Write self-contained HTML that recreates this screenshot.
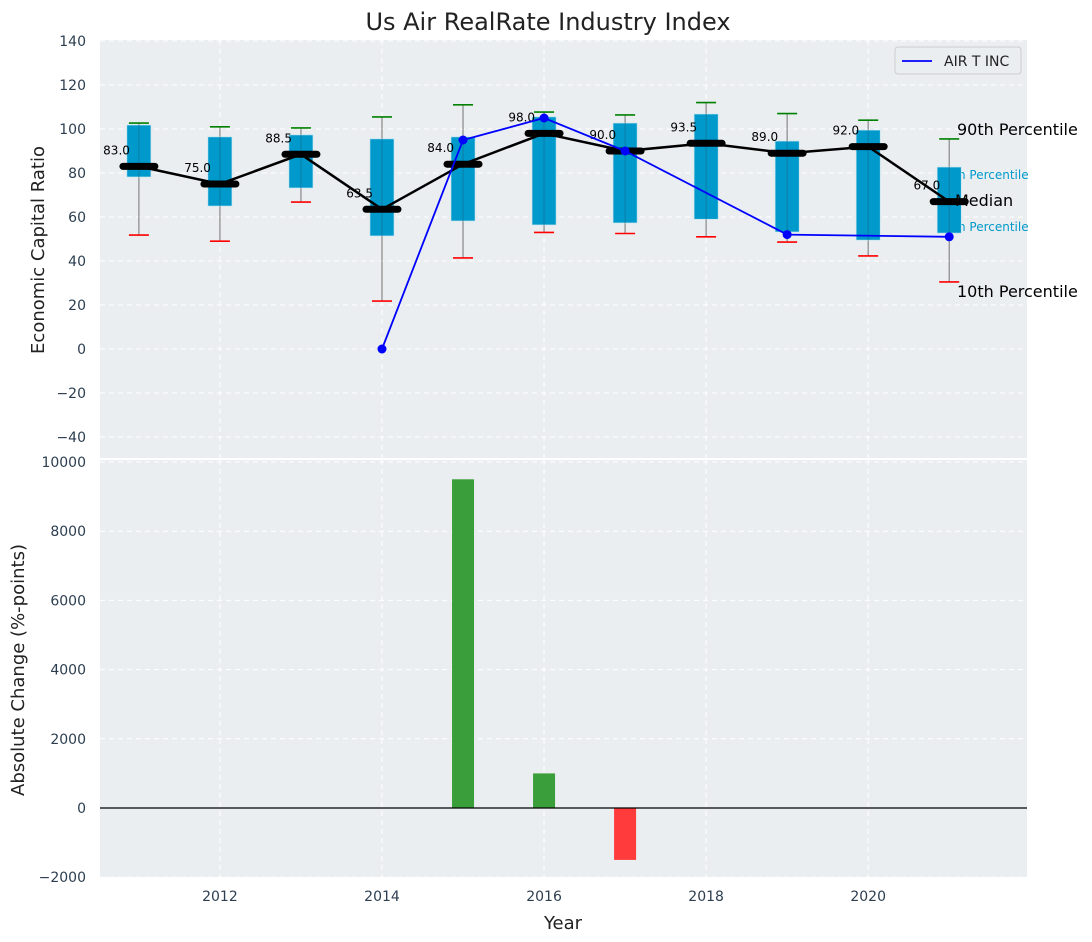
<!DOCTYPE html>
<html><head><meta charset="utf-8"><style>
body{margin:0;background:#fff;}
svg{display:block;font-family:"DejaVu Sans","Liberation Sans",sans-serif;}
</style></head><body>
<svg id="c" width="1092" height="942"></svg>
<script>
const years=[2011,2012,2013,2014,2015,2016,2017,2018,2019,2020,2021];
const p90=[102.7,101,100.5,105.5,111,107.7,106.4,112,107,104,95.5];
const p75=[101.8,96.4,97.3,95.5,96.4,105.5,102.7,106.8,94.5,99.5,82.7];
const p25=[78.2,65,73.2,51.4,58.2,56.4,57.3,59,53.2,49.5,52.7];
const p10=[51.8,49,66.8,21.8,41.4,53,52.5,51,48.6,42.3,30.5];
const medians=[83,75,88.5,63.5,84,98,90,93.5,89,92,67];
const compYears=[2014,2015,2016,2017,2019,2021];
const compVals=[0,95,105,90,52,51];
const chgYears=[2015,2016,2017];
const chgVals=[9500,1000,-1500];
const topTicks=[-40,-20,0,20,40,60,80,100,120,140];
const botTicks=[-2000,0,2000,4000,6000,8000,10000];
const xTicks=[2012,2014,2016,2018,2020];

const NS='http://www.w3.org/2000/svg';
const svg=document.getElementById('c');
function el(tag,attrs,parent){const e=document.createElementNS(NS,tag);for(const k in attrs)e.setAttribute(k,attrs[k]);(parent||svg).appendChild(e);return e;}
function tx(x,y,s,attrs){const e=el('text',Object.assign({x:x,y:y},attrs||{}));e.textContent=s;return e;}
const L=100,R=1027;
const X=v=>L+(v-2010.52)/(2021.96-2010.52)*(R-L);
const Y1=v=>349-v*2.2;
const Y2=v=>808-v*0.0346;

let e=el('rect',{x:L,y:40,width:R-L,height:418,fill:'#eaeef0'});

e=el('rect',{x:L,y:460,width:R-L,height:417,fill:'#eaeef0'});


xTicks.forEach(t=>{
  el('line',{x1:X(t),x2:X(t),y1:40,y2:458,stroke:'#fff','stroke-dasharray':'5,4','stroke-width':1});
  el('line',{x1:X(t),x2:X(t),y1:460,y2:877,stroke:'#fff','stroke-dasharray':'5,4','stroke-width':1});
  e=tx(X(t),901,String(t),{'text-anchor':'middle','font-size':14,fill:'#2d3e50'});
  
});
topTicks.forEach(t=>{
  el('line',{x1:L,x2:R,y1:Y1(t),y2:Y1(t),stroke:'#fff','stroke-dasharray':'5,4','stroke-width':1});
  e=tx(86,Y1(t)+5,t<0?'\u2212'+(-t):String(t),{'text-anchor':'end','font-size':14,fill:'#2d3e50'});
  
});
botTicks.forEach(t=>{
  el('line',{x1:L,x2:R,y1:Y2(t),y2:Y2(t),stroke:'#fff','stroke-dasharray':'5,4','stroke-width':1});
  e=tx(86,Y2(t)+5,t<0?'\u2212'+(-t):String(t),{'text-anchor':'end','font-size':14,fill:'#2d3e50'});
  
});

e=tx(938,231,'25th Percentile',{'font-size':12,fill:'#0099cc'});

e=tx(938,179,'75th Percentile',{'font-size':12,fill:'#0099cc'});


years.forEach((y,i)=>{
  const cx=X(y);
  e=el('line',{x1:cx,x2:cx,y1:Y1(p10[i]),y2:Y1(p90[i]),stroke:'#888','stroke-width':1.2});
  
  e=el('rect',{x:cx-12,y:Y1(p75[i]),width:24,height:Y1(p25[i])-Y1(p75[i]),fill:'#0099cc',stroke:'#bfe3ef','stroke-width':0.6});
  
  el('line',{x1:cx,x2:cx,y1:Y1(p75[i]),y2:Y1(p25[i]),stroke:'#1a6a8a','stroke-width':1,opacity:0.6});
  e=el('line',{x1:cx-10,x2:cx+10,y1:Y1(p90[i]),y2:Y1(p90[i]),stroke:'#008000','stroke-width':1.6});
  
  e=el('line',{x1:cx-10,x2:cx+10,y1:Y1(p10[i]),y2:Y1(p10[i]),stroke:'#ff0000','stroke-width':1.6});
  
});
e=el('polyline',{points:years.map((y,i)=>X(y)+','+Y1(medians[i])).join(' '),fill:'none',stroke:'#000','stroke-width':2.5});

years.forEach((y,i)=>{
  const cx=X(y),cy=Y1(medians[i]);
  e=el('line',{x1:cx-16,x2:cx+16,y1:cy,y2:cy,stroke:'#000','stroke-width':7,'stroke-linecap':'round'});
  
  e=tx(cx-9,cy-12,medians[i].toFixed(1),{'text-anchor':'end','font-size':12,fill:'#000'});
  
});
e=el('polyline',{points:compYears.map((y,i)=>X(y)+','+Y1(compVals[i])).join(' '),fill:'none',stroke:'#0000ff','stroke-width':1.8});

compYears.forEach((y,i)=>{
  e=el('circle',{cx:X(y),cy:Y1(compVals[i]),r:4.5,fill:'#0000ff'});
  
});
e=tx(957,135,'90th Percentile',{'font-size':16,fill:'#000'});

e=tx(955,206,'Median',{'font-size':16,fill:'#000'});

e=tx(957,297,'10th Percentile',{'font-size':16,fill:'#000'});


const lg=el('g',{});

el('rect',{x:895,y:47,width:126,height:27,rx:3,fill:'#eaeef0',stroke:'#ccc'},lg);
el('line',{x1:902,x2:932,y1:61,y2:61,stroke:'#0000ff','stroke-width':1.8},lg);
e=tx(944,66,'AIR T INC',{'font-size':14,fill:'#222'});lg.appendChild(e);


chgYears.forEach((y,i)=>{
  const v=chgVals[i];
  e=el('rect',{x:X(y)-11,y:Math.min(Y2(v),Y2(0)),width:22,height:Math.abs(Y2(v)-Y2(0)),fill:v>=0?'#3a9e3a':'#ff3b3b'});
  
});
e=el('line',{x1:L,x2:R,y1:Y2(0),y2:Y2(0),stroke:'#000','stroke-width':1.2});


e=tx(548,30,'Us Air RealRate Industry Index',{'text-anchor':'middle','font-size':24,fill:'#222'});

e=tx(563,929,'Year',{'text-anchor':'middle','font-size':18,fill:'#222'});

e=tx(0,0,'Economic Capital Ratio',{'text-anchor':'middle','font-size':18,fill:'#222',transform:'translate(44,250) rotate(-90)'});

e=tx(0,0,'Absolute Change (%-points)',{'text-anchor':'middle','font-size':18,fill:'#222',transform:'translate(24,670) rotate(-90)'});

</script>
</body></html>
